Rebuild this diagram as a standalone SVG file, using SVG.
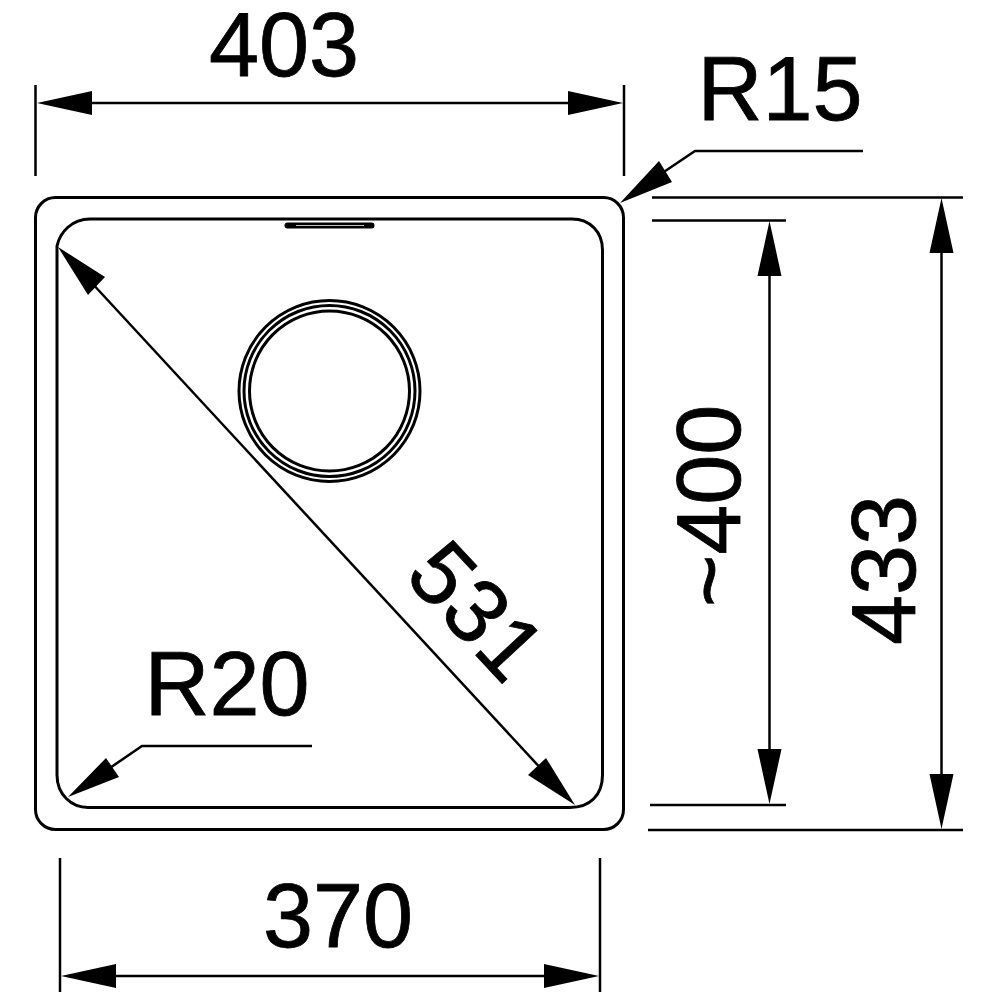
<svg xmlns="http://www.w3.org/2000/svg" width="1000" height="1000" viewBox="0 0 1000 1000">
<style>
.l{fill:none;stroke:#000;stroke-width:2.500}
.b{fill:none;stroke:#000;stroke-width:3}
.a{fill:#000;stroke:none}
text{font-family:"Liberation Sans",Arial,sans-serif;font-size:90px;fill:#000;stroke:#000;stroke-width:0.800;text-anchor:middle}
</style>
<rect width="1000" height="1000" fill="#fff"/>
<g id="sink">
<rect class="b" x="35.500" y="197.500" width="588" height="632" rx="20" ry="20"/>
<path class="b" d="M57 246C60 232 72 219 90 219H572C590 219 602.500 232 602.500 250V775C602.500 795 590 807.500 570 807.500H88C72 807.500 57 795 57 775Z"/>
</g>
<g id="overflow">
<rect x="284.500" y="222.500" width="90" height="6" rx="3" fill="#000"/>
<rect x="296" y="225" width="68" height="1" fill="#bbb"/>
</g>
<g id="drain">
<circle class="b" cx="329.500" cy="391" r="90.500"/>
<circle class="b" cx="329.500" cy="391" r="85.500"/>
<circle class="b" cx="329.500" cy="391" r="80"/>
</g>
<g id="connectors">
<path class="l" d="M35.500 85V176M624 85V176M60 858V992M600 858V992"/>
<path class="l" d="M90 103H570"/>
<path class="a" d="M37 103L92 91V115Z"/>
<path class="a" d="M623 103L568 91V115Z"/>
<path class="l" d="M115 976H545"/>
<path class="a" d="M61 976L116 964V988Z"/>
<path class="a" d="M599 976L544 964V988Z"/>
<path class="l" d="M652 197.500H963M648 830H963M652 220.500H786M650 805H786"/>
<path class="l" d="M941.500 250V775"/>
<path class="a" d="M941.500 198L929.500 253H953.500Z"/>
<path class="a" d="M941.500 829L929.500 774H953.500Z"/>
<path class="l" d="M769.500 270V755"/>
<path class="a" d="M769.500 221L757.500 276H781.500Z"/>
<path class="a" d="M769.500 804L757.500 749H781.500Z"/>
<path class="l" d="M90 281L545 773"/>
<path class="a" d="M58 247L105 277L88 295Z"/>
<path class="a" d="M575 805L528 775L546 758Z"/>
<path class="l" d="M640 188L695 151H863"/>
<path class="a" d="M620 203L659 161L672 182Z"/>
<path class="l" d="M85 785L142 746H312"/>
<path class="a" d="M68 797L106 758L119 777Z"/>
</g>
<g id="labels">
<text x="284" y="76">403</text>
<text x="780" y="120">R15</text>
<text x="227" y="715">R20</text>
<text x="338" y="947">370</text>
<text transform="translate(454 632) rotate(47)">531</text>
<text transform="translate(740 506) rotate(-90)">~400</text>
<text transform="translate(915 570) rotate(-90)">433</text>
</g>
</svg>
